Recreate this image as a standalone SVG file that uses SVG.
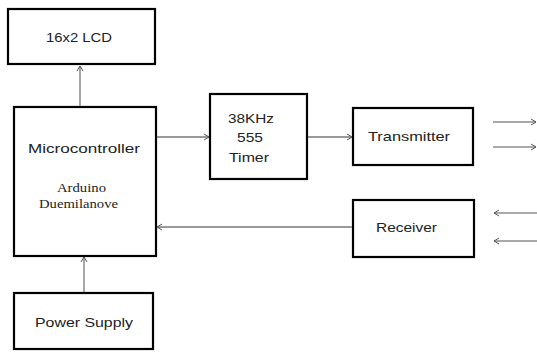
<svg xmlns="http://www.w3.org/2000/svg" width="537" height="353" viewBox="0 0 537 353">
<style>
.box{fill:#fff;stroke:#000;stroke-width:2.2}
.t{font-family:"Liberation Sans",Arial,sans-serif;font-size:13px;fill:#222;text-anchor:start}
.s{font-family:"Liberation Serif","Times New Roman",serif;font-size:13px;fill:#222}
.c{fill:none;stroke:#777;stroke-width:1.3}
.sig{fill:none;stroke:#555;stroke-width:1.2}
</style>
<defs>
<marker id="ah" markerWidth="8" markerHeight="8" refX="6" refY="4" orient="auto" markerUnits="userSpaceOnUse">
<path d="M1,1 L6,4 L1,7" fill="none" stroke="#555" stroke-width="1"/>
</marker>
</defs>
<rect width="537" height="353" fill="#fff"/>
<g id="lcd"><rect class="box" x="8" y="9" width="147" height="55"/><text class="t" x="46" y="42" textLength="66" lengthAdjust="spacingAndGlyphs">16x2 LCD</text></g>
<g id="micro"><rect class="box" x="14" y="107" width="142" height="149"/>
<text class="t" x="28" y="153" textLength="112" lengthAdjust="spacingAndGlyphs">Microcontroller</text>
<text class="s" x="57" y="192" textLength="49" lengthAdjust="spacingAndGlyphs">Arduino</text>
<text class="s" x="39" y="208" textLength="79" lengthAdjust="spacingAndGlyphs">Duemilanove</text></g>
<g id="timer"><rect class="box" x="210" y="94" width="97" height="85"/>
<text class="t" x="228" y="123" textLength="46" lengthAdjust="spacingAndGlyphs">38KHz</text>
<text class="t" x="237" y="142" textLength="26" lengthAdjust="spacingAndGlyphs">555</text>
<text class="t" x="229" y="162" textLength="40" lengthAdjust="spacingAndGlyphs">Timer</text></g>
<g id="transmitter"><rect class="box" x="353" y="108" width="120" height="57"/><text class="t" x="368" y="141" textLength="82" lengthAdjust="spacingAndGlyphs">Transmitter</text></g>
<g id="receiver"><rect class="box" x="353" y="200" width="121" height="57"/><text class="t" x="376" y="232" textLength="61" lengthAdjust="spacingAndGlyphs">Receiver</text></g>
<g id="power"><rect class="box" x="14" y="293" width="139" height="56"/><text class="t" x="35" y="327" textLength="98" lengthAdjust="spacingAndGlyphs">Power Supply</text></g>
<g id="connectors">
<line class="c" x1="80" y1="106" x2="80" y2="66" marker-end="url(#ah)"/>
<line class="c" x1="157" y1="137" x2="209" y2="137" marker-end="url(#ah)"/>
<line class="c" x1="308" y1="137" x2="352" y2="137" marker-end="url(#ah)"/>
<line class="c" x1="352" y1="227" x2="157" y2="227" marker-end="url(#ah)"/>
<line class="c" x1="84" y1="292" x2="84" y2="257" marker-end="url(#ah)"/>
<line class="sig" x1="493" y1="122" x2="536" y2="122" marker-end="url(#ah)"/>
<line class="sig" x1="493" y1="147" x2="536" y2="147" marker-end="url(#ah)"/>
<line class="sig" x1="537" y1="213" x2="494" y2="213" marker-end="url(#ah)"/>
<line class="sig" x1="537" y1="241" x2="494" y2="241" marker-end="url(#ah)"/>
</g>
</svg>
